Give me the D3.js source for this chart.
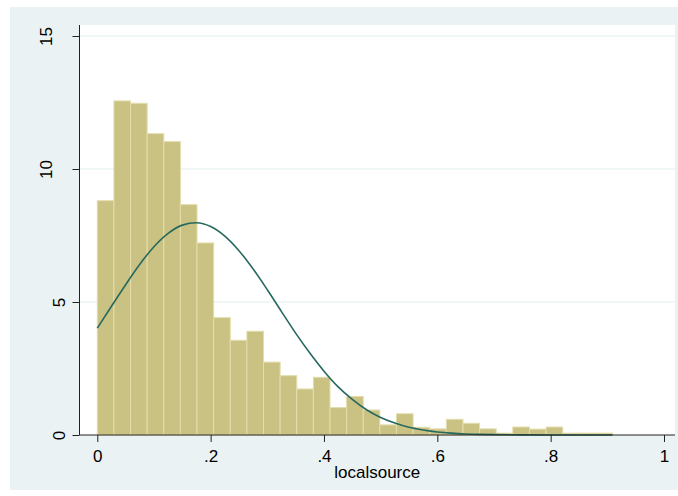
<!DOCTYPE html>
<html>
<head>
<meta charset="utf-8">
<script src="https://cdn.jsdelivr.net/npm/d3@7"></script>
<style>
  body { margin: 0; background: #fff; }
  text { font-family: "Liberation Sans", Arial, sans-serif; }
</style>
</head>
<body>
<div id="chart"></div>
<script>
// Histogram of localsource (percent) with a normal curve on top

// Bars: percent per bin, bins start at 0
const binStart = 0;
const binWidth = 0.02933;
const barValues = [8.81, 12.56, 12.47, 11.33, 11.03, 8.66, 7.22, 4.41, 3.56, 3.90,
                   2.74, 2.23, 1.73, 2.17, 1.03, 1.45, 0.94, 0.38, 0.80, 0.29,
                   0.23, 0.59, 0.44, 0.23, 0.07, 0.30, 0.22, 0.30, 0.07, 0.07, 0.07];

// Normal curve
const curveX = [0, 0.025, 0.05, 0.075, 0.1, 0.125, 0.15, 0.175, 0.2, 0.225, 0.25, 0.275,
                0.3, 0.325, 0.35, 0.375, 0.4, 0.425, 0.45, 0.475, 0.5, 0.525, 0.55,
                0.575, 0.6, 0.625, 0.65, 0.675, 0.7, 0.75, 0.8, 0.909];
const curveY = [4.02, 4.84, 5.65, 6.42, 7.08, 7.58, 7.89, 7.98, 7.84, 7.48, 6.93, 6.24,
                5.46, 4.64, 3.83, 3.08, 2.40, 1.81, 1.34, 0.95, 0.66, 0.45, 0.29,
                0.19, 0.115, 0.069, 0.040, 0.023, 0.013, 0.003, 0, 0];

// Axis ticks
const xTicks = [0, 0.2, 0.4, 0.6, 0.8, 1];
const xTickLabels = ["0", ".2", ".4", ".6", ".8", "1"];
const yTicks = [0, 5, 10, 15];
const xTitle = "localsource";

const W = 678, H = 496;
const plot = { left: 79.5, right: 675, top: 25, bottom: 435 };

const svg = d3.select("#chart")
    .append("svg")
    .attr("width", W)
    .attr("height", H);

// Outer graph region
svg.append("rect")
    .attr("x", 10).attr("y", 7)
    .attr("width", W - 10).attr("height", 483)
    .attr("fill", "#eaf2f3");

// Plot region
svg.append("rect")
    .attr("x", plot.left).attr("y", plot.top)
    .attr("width", plot.right - plot.left).attr("height", plot.bottom - plot.top)
    .attr("fill", "#fff");

const x = d3.scaleLinear().domain([0, 1]).range([97.3, 664]);
const y = d3.scaleLinear().domain([0, 15]).range([435, 36]);

// Gridlines
svg.append("g")
    .selectAll("line")
    .data(yTicks.filter(d => d > 0))
    .enter().append("line")
    .attr("x1", plot.left).attr("x2", plot.right)
    .attr("y1", d => y(d)).attr("y2", d => y(d))
    .attr("stroke", "#e4eef0")
    .attr("stroke-width", 1.2);

// Bars
svg.append("g")
    .selectAll("rect")
    .data(barValues)
    .enter().append("rect")
    .attr("x", (d, i) => x(binStart + i * binWidth))
    .attr("width", x(binWidth) - x(0))
    .attr("y", d => y(d))
    .attr("height", d => y(0) - y(d))
    .attr("fill", "#cac283")
    .attr("stroke", "#e3ddac")
    .attr("stroke-width", 1);

// Normal curve
const line = d3.line()
    .x(d => x(d[0]))
    .y(d => y(d[1]))
    .curve(d3.curveMonotoneX);

svg.append("path")
    .datum(curveX.map((v, i) => [v, curveY[i]]))
    .attr("d", line)
    .attr("fill", "none")
    .attr("stroke", "#26695f")
    .attr("stroke-width", 1.6);

// X axis
const xAxis = svg.append("g")
    .attr("transform", "translate(0," + plot.bottom + ")")
    .call(d3.axisBottom(x)
        .tickValues(xTicks)
        .tickFormat((d, i) => xTickLabels[i])
        .tickSize(7)
        .tickSizeOuter(0));
xAxis.select(".domain").remove();
xAxis.selectAll("line").attr("stroke", "#222");
xAxis.selectAll("text")
    .attr("y", 26.5)
    .attr("dy", 0)
    .attr("fill", "#000")
    .style("font-size", "17px");
xAxis.append("line")
    .attr("x1", plot.left).attr("x2", plot.right)
    .attr("stroke", "#222");

// Y axis, labels turned vertical like Stata does
const yAxis = svg.append("g")
    .attr("transform", "translate(" + plot.left + ",0)")
    .call(d3.axisLeft(y)
        .tickValues(yTicks)
        .tickSize(7)
        .tickSizeOuter(0));
yAxis.select(".domain").remove();
yAxis.selectAll("line").attr("stroke", "#222");
yAxis.selectAll("text")
    .attr("x", 0)
    .attr("dy", 0)
    .attr("text-anchor", "middle")
    .attr("transform", d => "translate(" + (String(d).length > 1 ? -27.5 : -14.5) + ",0) rotate(-90)")
    .attr("fill", "#000")
    .style("font-size", "17px");
yAxis.append("line")
    .attr("y1", plot.top).attr("y2", plot.bottom)
    .attr("stroke", "#222");

// Axis title
svg.append("text")
    .attr("x", (plot.left + plot.right) / 2)
    .attr("y", 478)
    .attr("text-anchor", "middle")
    .style("font-size", "17px")
    .text(xTitle);
</script>
</body>
</html>
